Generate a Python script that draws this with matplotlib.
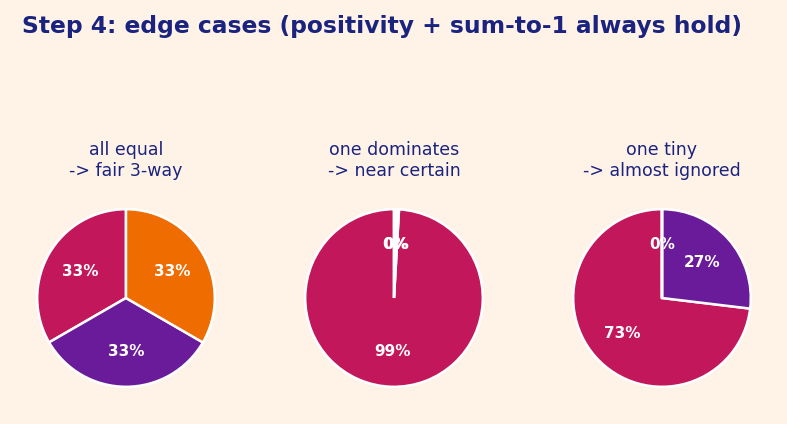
import matplotlib.pyplot as plt

# softmax outputs for three logit cases
titles = ["all equal\n-> fair 3-way", "one dominates\n-> near certain", "one tiny\n-> almost ignored"]
probs_equal = [0.3333, 0.3333, 0.3334]
probs_dominant = [0.991, 0.0045, 0.0045]
probs_tiny = [0.731, 0.269, 0.00005]
colors = ["#C2185B", "#6A1B9A", "#EF6C00"]

bg = "#FFF3E8"
navy = "#1A237E"

fig = plt.figure(figsize=(7.87, 4.24), dpi=100)
fig.patch.set_facecolor(bg)

centers = [126, 394, 662]
size_px = 222
for cx, title, vals in zip(centers, titles, [probs_equal, probs_dominant, probs_tiny]):
    ax = fig.add_axes([(cx - size_px / 2) / 787, 15 / 424, size_px / 787, size_px / 424])
    ax.set_facecolor(bg)
    wedges, texts, autotexts = ax.pie(vals, colors=colors, startangle=90, autopct="%.0f%%",
                                      wedgeprops=dict(edgecolor="white", linewidth=1.8))
    for t in autotexts:
        t.set_color("white")
        t.set_fontweight("bold")
        t.set_fontsize(11)
    ax.set_title(title, color=navy, fontsize=12.5, pad=8)
    ax.set_aspect("equal")

fig.text(22 / 787, 1 - 26 / 424, "Step 4: edge cases (positivity + sum-to-1 always hold)",
         color=navy, fontsize=16.8, fontweight="bold", va="center", ha="left")

fig.savefig("out.png", dpi=100, facecolor=bg)
